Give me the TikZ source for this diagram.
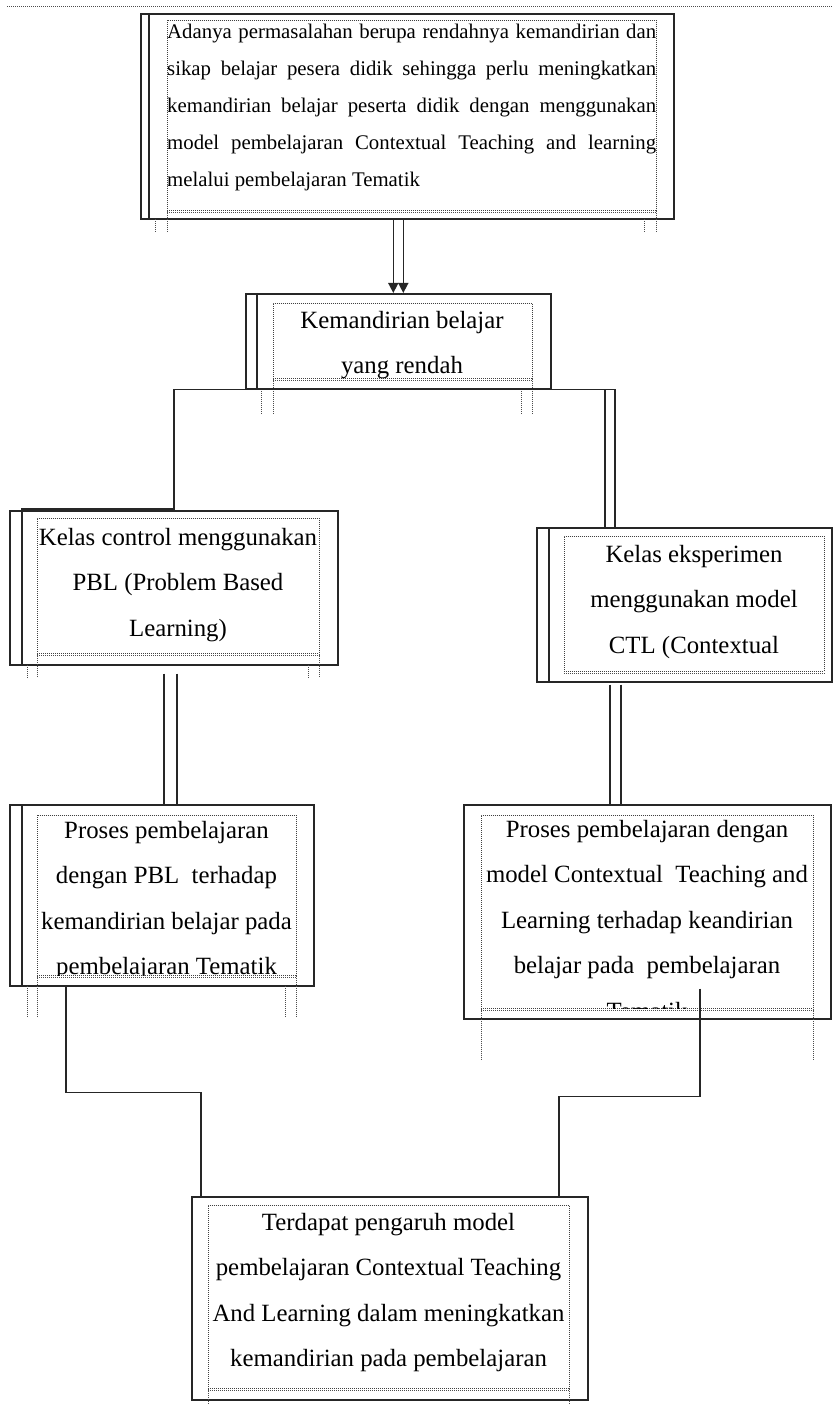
\documentclass[tikz,border=0pt]{standalone}
\usepackage{fontspec}
\setmainfont{Liberation Serif}
\usetikzlibrary{calc,arrows.meta}
\begin{document}
\begin{tikzpicture}[x=1pt,y=-1pt,
  frame/.style={draw=black!85, line width=1.6pt, inner sep=0pt, anchor=north west},
  dotbox/.style={draw=black!75, line width=0.9pt, dash pattern=on 1pt off 1pt, inner sep=0pt, anchor=north west},
  tick/.style={draw=black!70, line width=0.9pt, dash pattern=on 1pt off 1pt},
  conn/.style={draw=black!85, line width=1.6pt},
  arr/.style={-{Triangle[length=10pt,width=10pt]}},
  bigtext/.style={font=\fontsize{24.8}{45.5}\selectfont, align=center, inner sep=0pt, anchor=north},
  smalltext/.style={font=\fontsize{20.8}{37}\selectfont, align=left, inner sep=0pt, anchor=north west}]
\useasboundingbox (0,0) rectangle (832,1404);

% top dotted rule
\coordinate (tl) at (7,6);
\coordinate (tr) at (832,6);
\draw[tick] (tl) -- (tr);

% ---------- box 1
\node[frame, minimum width=533pt, minimum height=205pt] (b1) at (140,13) {};
\draw[conn] ($(b1.north west)+(9,0)$) -- ($(b1.south west)+(9,0)$);
\node[dotbox, minimum width=489pt, minimum height=190pt] (d1) at (167,20) {};
\node[smalltext] (t1) at (167,21) {%
\makebox[489pt][s]{\rule{0pt}{17pt}Adanya permasalahan berupa rendahnya kemandirian dan}\\
\makebox[489pt][s]{sikap belajar pesera didik sehingga perlu meningkatkan}\\
\makebox[489pt][s]{kemandirian belajar peserta didik dengan menggunakan}\\
\makebox[489pt][s]{model pembelajaran Contextual Teaching and learning}\\
melalui pembelajaran Tematik};

% ---------- box 2
\node[frame, minimum width=305pt, minimum height=95pt] (b2) at (245,293) {};
\draw[conn] ($(b2.north west)+(12,0)$) -- ($(b2.south west)+(12,0)$);
\node[dotbox, minimum width=259pt, minimum height=75pt] (d2) at (273,303) {};
\begin{scope}
\clip (d2.north west) rectangle (d2.south east);
\node[bigtext] (t2) at (402,308) {\rule{0pt}{20pt}Kemandirian belajar\\yang rendah};
\end{scope}

% ---------- box 3
\node[frame, minimum width=328pt, minimum height=154pt] (b3) at (9,510) {};
\draw[conn] ($(b3.north west)+(13,-2)$) -- ($(b3.south west)+(13,0)$);
\node[dotbox, minimum width=282pt, minimum height=135pt] (d3) at (37,518) {};
\node[bigtext] (t3) at (178,525) {\rule{0pt}{20pt}Kelas control menggunakan\\PBL (Problem Based\\Learning)};

% ---------- box 4
\node[frame, minimum width=295pt, minimum height=154pt] (b4) at (536,527) {};
\draw[conn] ($(b4.north west)+(13,0)$) -- ($(b4.south west)+(13,0)$);
\node[dotbox, minimum width=260pt, minimum height=135pt] (d4) at (564,536) {};
\node[bigtext] (t4) at (694,542) {\rule{0pt}{20pt}Kelas eksperimen\\menggunakan model\\CTL (Contextual};

% ---------- box 5
\node[frame, minimum width=304pt, minimum height=181pt] (b5) at (9,804) {};
\draw[conn] ($(b5.north west)+(13,0)$) -- ($(b5.south west)+(13,0)$);
\node[dotbox, minimum width=259pt, minimum height=160pt] (d5) at (37,815) {};
\begin{scope}
\clip (d5.north west) rectangle (d5.south east);
\node[bigtext] (t5) at (166.5,818) {\rule{0pt}{20pt}Proses pembelajaran\\dengan PBL\ \ terhadap\\kemandirian belajar pada\\pembelajaran Tematik};
\end{scope}

% ---------- box 6
\node[frame, minimum width=367pt, minimum height=214pt] (b6) at (463,804) {};
\node[dotbox, minimum width=332pt, minimum height=193pt] (d6) at (481,815) {};
\begin{scope}
\clip (d6.north west) rectangle (d6.south east);
\node[bigtext] (t6) at (647,817) {\rule{0pt}{20pt}Proses pembelajaran dengan\\model Contextual\ \ Teaching and\\Learning terhadap keandirian\\belajar pada\ \ pembelajaran\\Tematik};
\end{scope}

% ---------- box 7 (bottom)
\node[frame, minimum width=396pt, minimum height=203pt] (b7) at (191,1196) {};
\node[dotbox, minimum width=361pt, minimum height=183pt] (d7) at (208,1205) {};
\node[bigtext] (t7) at (388.5,1210) {\rule{0pt}{20pt}Terdapat pengaruh model\\pembelajaran Contextual Teaching\\And Learning dalam meningkatkan\\kemandirian pada pembelajaran};

% doubled dotted bottoms of the text frames
\foreach \d in {d1,d2,d3,d4,d5,d6,d7}{
  \draw[tick] ($(\d.south west)+(0,2)$) -- ($(\d.south east)+(0,2)$);
}

% dotted ticks below boxes
\draw[tick] (d1.south west) -- ++(0,22);
\draw[tick] (d1.south east) -- ++(0,22);
\draw[tick] ($(d1.south west)+(-12,8)$) -- ++(0,14);
\draw[tick] ($(d1.south east)+(-12,8)$) -- ++(0,14);

\draw[tick] (d2.south west) -- ++(0,35);
\draw[tick] (d2.south east) -- ++(0,35);
\draw[tick] ($(d2.south west)+(-12,10)$) -- ++(0,25);
\draw[tick] ($(d2.south east)+(-11,10)$) -- ++(0,25);

\draw[tick] (d3.south west) -- ++(0,24);
\draw[tick] (d3.south east) -- ++(0,24);
\draw[tick] ($(d3.south west)+(-10,11)$) -- ++(0,13);
\draw[tick] ($(d3.south east)+(-11,11)$) -- ++(0,13);

\draw[tick] (d5.south west) -- ++(0,42);
\draw[tick] (d5.south east) -- ++(0,42);
\draw[tick] ($(d5.south west)+(-10,10)$) -- ++(0,32);
\draw[tick] ($(d5.south east)+(-11,10)$) -- ++(0,32);

\draw[tick] (d6.south west) -- ++(0,52);
\draw[tick] (d6.south east) -- ++(0,52);

\draw[tick] (d7.south west) -- ++(0,16);
\draw[tick] (d7.south east) -- ++(0,16);

% ---------- connectors
% b1 -> b2 (double arrow)
\coordinate (a1) at ($(b2.north)+(-5,0)$);
\coordinate (a2) at ($(b2.north)+(5,0)$);
\draw[conn,arr] (a1 |- b1.south) -- (a1);
\draw[conn,arr] (a2 |- b1.south) -- (a2);

% b2 -> b3 and b4
\coordinate (c1) at ($(b3.north west)+(13,-1)$);
\coordinate (c2) at ($(b2.south)+(-224.5,0)$);
\coordinate (c3) at ($(b4.north west)+(69,0)$);
\coordinate (c4) at ($(b4.north west)+(79,0)$);
\draw[conn] (c1) -| (c2) -- (c4 |- c2) -- (c4);
\draw[conn] (c3 |- c2) -- (c3);

% b3 -> b5 (double line)
\coordinate (e1) at ($(b5.north west)+(155,0)$);
\coordinate (e2) at ($(b5.north west)+(168,0)$);
\coordinate (e1t) at (e1 |- b3.south);
\coordinate (e2t) at (e2 |- b3.south);
\draw[conn] ([yshift=-8pt]e1t) -- (e1);
\draw[conn] ([yshift=-8pt]e2t) -- (e2);

% b4 -> b6 (double line)
\coordinate (f1) at ($(b6.north west)+(147,0)$);
\coordinate (f2) at ($(b6.north west)+(158,0)$);
\coordinate (f1t) at (f1 |- b4.south);
\coordinate (f2t) at (f2 |- b4.south);
\draw[conn] ([yshift=-2pt]f1t) -- (f1);
\draw[conn] ([yshift=-2pt]f2t) -- (f2);

% b5 -> b7
\coordinate (g1) at ($(b5.south west)+(57,0)$);
\coordinate (g2) at ($(b7.north west)+(10,0)$);
\draw[conn] (g1) -- ++(0,106) -| (g2);

% b6 -> b7
\coordinate (g3) at ($(b6.south west)+(237,-31)$);
\coordinate (g4) at ($(b7.north west)+(368,0)$);
\draw[conn] (g3) -- ++(0,108) -| (g4);
\end{tikzpicture}
\end{document}
